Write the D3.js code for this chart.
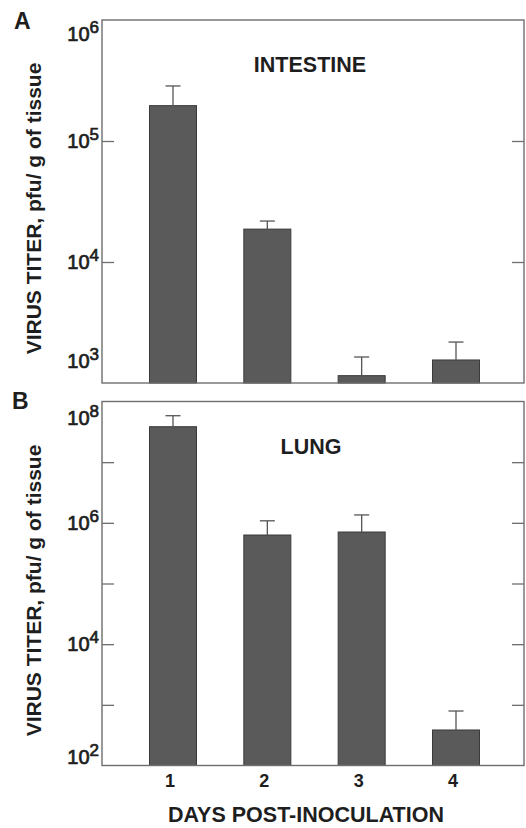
<!DOCTYPE html>
<html>
<head>
<meta charset="utf-8">
<script src="https://cdn.jsdelivr.net/npm/d3@7"></script>
<style>
  body { margin: 0; background: #fff; }
  svg text { font-family: "Liberation Sans", Arial, Helvetica, sans-serif; font-weight: bold; fill: #1e1e1e; }
</style>
</head>
<body>
<svg id="chart" width="526" height="828"></svg>
<script>
/* values (pfu / g of tissue) */
const days = [1, 2, 3, 4];
const intestineMean = [1.96e5, 1.87e4, 1.15e3, 1.55e3];
const intestineUpper = [2.85e5, 2.18e4, 1.64e3, 2.18e3];
const lungMean = [3.84e7, 6.3e5, 7.06e5, 385];
const lungUpper = [5.83e7, 1.08e6, 1.35e6, 791];

const intestineTicks = [1e3, 1e4, 1e5, 1e6];
const intestineLabels = [3, 4, 5, 6];
const lungTicks = [1e2, 1e3, 1e4, 1e5, 1e6, 1e7, 1e8];
const lungLabels = [2, 4, 6, 8];

const svg = d3.select("#chart");
const frameLeft = 102, frameRight = 524;

const x = d3.scalePoint()
    .domain(days)
    .range([173, 456]);
const barWidth = 47;

/* draws one panel: frame, ticks on both sides, bars with upper error bars */
function drawPanel(opts) {
    const y = d3.scaleLog()
        .domain(opts.domain)
        .range([opts.bottom, opts.top]);

    const g = svg.append("g");

    // bars
    g.selectAll(".bar")
        .data(days)
        .enter().append("rect")
        .attr("class", "bar")
        .attr("x", d => x(d) - barWidth / 2)
        .attr("y", (d, i) => y(opts.mean[i]))
        .attr("width", barWidth)
        .attr("height", (d, i) => opts.bottom - y(opts.mean[i]))
        .style("fill", "#5a5a5a")
        .style("stroke", "#3a3a3a")
        .style("stroke-width", 1);

    // error bars
    g.selectAll(".err")
        .data(days)
        .enter().append("line")
        .attr("x1", d => x(d)).attr("x2", d => x(d))
        .attr("y1", (d, i) => y(opts.mean[i]))
        .attr("y2", (d, i) => y(opts.upper[i]))
        .style("stroke", "#555").style("stroke-width", 1.3);
    g.selectAll(".cap")
        .data(days)
        .enter().append("line")
        .attr("x1", d => x(d) - 7.5).attr("x2", d => x(d) + 7.5)
        .attr("y1", (d, i) => y(opts.upper[i]))
        .attr("y2", (d, i) => y(opts.upper[i]))
        .style("stroke", "#555").style("stroke-width", 1.3);

    // frame
    g.append("rect")
        .attr("x", frameLeft)
        .attr("y", opts.top)
        .attr("width", frameRight - frameLeft)
        .attr("height", opts.bottom - opts.top)
        .style("fill", "none")
        .style("stroke", "#6e6e6e")
        .style("stroke-width", 1.4);

    // inner ticks, left and right
    const inner = opts.ticks.filter(t => t > opts.domain[0] && t < opts.domain[1]);
    g.append("g")
        .attr("transform", `translate(${frameLeft},0)`)
        .call(d3.axisRight(y).tickValues(inner).tickSize(12).tickFormat(""))
        .call(a => a.select(".domain").remove())
        .call(a => a.selectAll("line").style("stroke", "#6e6e6e").style("stroke-width", 1.3));
    g.append("g")
        .attr("transform", `translate(${frameRight},0)`)
        .call(d3.axisLeft(y).tickValues(inner).tickSize(12).tickFormat(""))
        .call(a => a.select(".domain").remove())
        .call(a => a.selectAll("line").style("stroke", "#6e6e6e").style("stroke-width", 1.3));

    // power-of-ten labels
    const lab = g.selectAll(".ylab")
        .data(opts.labels)
        .enter().append("text")
        .attr("class", "ylab")
        .attr("x", 99)
        .attr("y", (p, i) => y(Math.pow(10, p)) + 7 + opts.labelShift[i])
        .attr("text-anchor", "end")
        .style("font-size", "20px")
        .style("font-weight", "normal")
        .style("stroke", "#1e1e1e").style("stroke-width", 0.7);
    lab.append("tspan").text("10");
    lab.append("tspan").attr("dy", -8).style("font-size", "17px").text(p => p);

    // panel title
    g.append("text")
        .attr("x", opts.titleX)
        .attr("y", opts.titleY)
        .attr("text-anchor", "middle")
        .style("font-size", "21.5px")
        .text(opts.title);

    // panel letter
    g.append("text")
        .attr("x", opts.letterX)
        .attr("y", opts.letterY)
        .style("font-size", "23px")
        .text(opts.letter);

    // y title
    g.append("text")
        .attr("transform", `translate(41,${(opts.top + opts.bottom) / 2 + 7}) rotate(-90)`)
        .attr("text-anchor", "middle")
        .style("font-size", "21px")
        .text("VIRUS TITER, pfu/ g of tissue");

    return y;
}

drawPanel({
    domain: [1e3, 1e6], top: 20, bottom: 383,
    mean: intestineMean, upper: intestineUpper,
    ticks: intestineTicks, labels: intestineLabels,
    labelShift: [-22, 0, 0, 14],
    title: "INTESTINE", titleX: 310, titleY: 72,
    letter: "A", letterX: 14, letterY: 29
});

drawPanel({
    domain: [1e2, 1e8], top: 401.5, bottom: 765.5,
    mean: lungMean, upper: lungUpper,
    ticks: lungTicks, labels: lungLabels,
    labelShift: [-9, 0, 0, 16],
    title: "LUNG", titleX: 311, titleY: 454,
    letter: "B", letterX: 12, letterY: 409
});

// x tick labels under panel B
svg.selectAll(".xlab")
    .data(days)
    .enter().append("text")
    .attr("class", "xlab")
    .attr("x", d => x(d) - 3)
    .attr("y", 787)
    .attr("text-anchor", "middle")
    .style("font-size", "18px")
    .text(d => d);

svg.append("text")
    .attr("x", 306)
    .attr("y", 822)
    .attr("text-anchor", "middle")
    .style("font-size", "21.5px")
    .text("DAYS POST-INOCULATION");
</script>
</body>
</html>
